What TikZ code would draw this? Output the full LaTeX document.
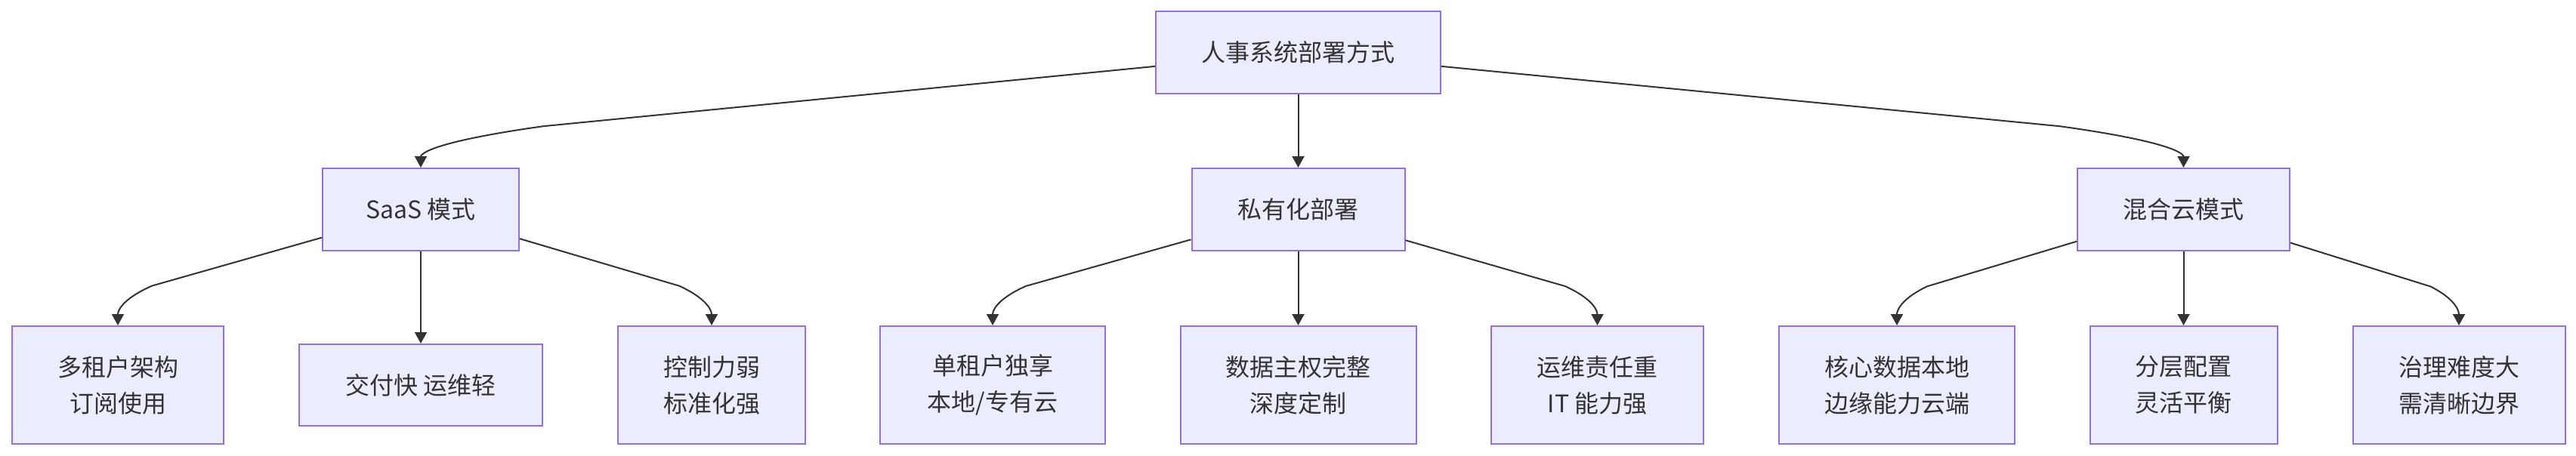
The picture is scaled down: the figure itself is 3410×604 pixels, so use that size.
\documentclass[tikz,border=0pt]{standalone}
\usepackage{fontspec}
\setmainfont{Noto Sans CJK SC}
\usepackage{xcolor}
\usetikzlibrary{arrows.meta}

\definecolor{boxfill}{HTML}{ECECFF}
\definecolor{boxline}{HTML}{9370DB}
\definecolor{inkgray}{HTML}{333333}

\begin{document}
\begin{tikzpicture}[x=1pt,y=-1pt,
    box/.style={draw=boxline,fill=boxfill,line width=2pt,inner sep=0pt,
        text=inkgray,align=center,font=\fontsize{32}{48}\selectfont},
    edge/.style={draw=inkgray,line width=2pt,-{Triangle[length=15pt,width=16pt]}}]
    \useasboundingbox (0,0) rectangle (3410,604);

    \node[box,minimum width=377pt,minimum height=109pt] (root) at (1718.5,69.5) {人事系统部署方式};

    \node[box,minimum width=260pt,minimum height=109pt] (saas) at (557,277.5) {SaaS 模式};
    \node[box,minimum width=282pt,minimum height=109pt] (priv) at (1718.5,277.5) {私有化部署};
    \node[box,minimum width=281pt,minimum height=109pt] (hybrid) at (2890.5,277.5) {混合云模式};

    \node[box,minimum width=280pt,minimum height=156pt] (multi) at (156,510) {多租户架构\\订阅使用};
    \node[box,minimum width=322pt,minimum height=108pt] (fast) at (557,510) {交付快 运维轻};
    \node[box,minimum width=248pt,minimum height=156pt] (weak) at (942,510) {控制力弱\\标准化强};

    \node[box,minimum width=298pt,minimum height=156pt] (single) at (1314,510) {单租户独享\\本地/专有云};
    \node[box,minimum width=312pt,minimum height=156pt] (sovereign) at (1718.5,510) {数据主权完整\\深度定制};
    \node[box,minimum width=281pt,minimum height=156pt] (ops) at (2114.5,510) {运维责任重\\IT 能力强};

    \node[box,minimum width=312pt,minimum height=156pt] (core) at (2511,510) {核心数据本地\\边缘能力云端};
    \node[box,minimum width=248pt,minimum height=156pt] (layer) at (2890.5,510) {分层配置\\灵活平衡};
    \node[box,minimum width=281pt,minimum height=156pt] (govern) at (3255,510) {治理难度大\\需清晰边界};

    \draw[edge] (root) -- (719.2,167.2) .. controls (557,190) and (557,206.5) .. (saas);
    \draw[edge] (root) -- (priv);
    \draw[edge] (root) -- (2726.6,167.2) .. controls (2890.5,190) and (2890.5,206.5) .. (hybrid);

    \draw[edge] (saas) -- (201.2,378.6) .. controls (156,398.7) and (156,415.3) .. (multi);
    \draw[edge] (saas) -- (fast);
    \draw[edge] (saas) -- (899.5,378.8) .. controls (942,398.7) and (942,415.3) .. (weak);

    \draw[edge] (priv) -- (1357.8,379) .. controls (1314,398.7) and (1314,415.3) .. (single);
    \draw[edge] (priv) -- (sovereign);
    \draw[edge] (priv) -- (2071.9,379.1) .. controls (2114.5,398.7) and (2114.5,415.3) .. (ops);

    \draw[edge] (hybrid) -- (2550.8,379.4) .. controls (2511,398.7) and (2511,415.3) .. (core);
    \draw[edge] (hybrid) -- (layer);
    \draw[edge] (hybrid) -- (3217.7,379.6) .. controls (3255,398.7) and (3255,415.3) .. (govern);
\end{tikzpicture}
\end{document}
